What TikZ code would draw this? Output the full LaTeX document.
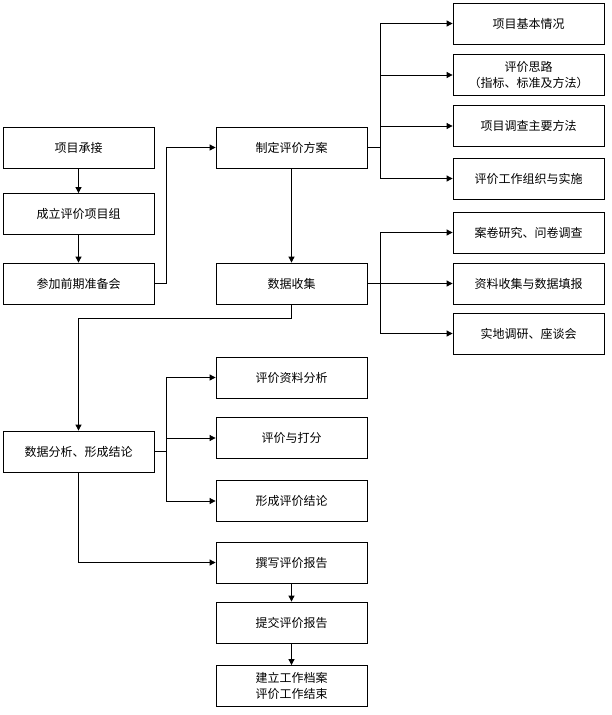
\documentclass[tikz,border=0pt]{standalone}
\usepackage{fontspec}
\setmainfont{Noto Sans CJK SC}
\usetikzlibrary{arrows.meta}

\tikzstyle{stepbox}=[draw, line width=0.8pt, minimum width=151pt, minimum height=41pt, inner sep=1pt, align=center, font=\fontsize{12}{16}\selectfont]
\tikzstyle{link}=[line width=0.8pt, -{Triangle[length=6pt,width=6pt]}]

\begin{document}
\begin{tikzpicture}[x=1pt,y=-1pt]
\useasboundingbox (0,0) rectangle (612,715);

% left column
\node[stepbox] (chengjie) at (78.5,147.5) {项目承接};
\node[stepbox] (zujian) at (78.5,214) {成立评价项目组};
\node[stepbox] (zhunbei) at (78.5,283.5) {参加前期准备会};

% middle column
\node[stepbox] (fangan) at (291.5,147.5) {制定评价方案};
\node[stepbox] (shouji) at (291.5,283.5) {数据收集};

% right column
\node[stepbox] (jiben) at (528.5,23.5) {项目基本情况};
\node[stepbox] (silu) at (528.5,75) {评价思路\\（指标、标准及方法）};
\node[stepbox] (fangfa) at (528.5,126) {项目调查主要方法};
\node[stepbox] (shishi) at (528.5,178.5) {评价工作组织与实施};
\node[stepbox] (anjuan) at (528.5,232.5) {案卷研究、问卷调查};
\node[stepbox] (tianbao) at (528.5,283.5) {资料收集与数据填报};
\node[stepbox] (diaoyan) at (528.5,333.5) {实地调研、座谈会};

% analysis
\node[stepbox] (fenxi) at (78.5,451.5) {数据分析、形成结论};
\node[stepbox] (ziliao) at (291.5,377.5) {评价资料分析};
\node[stepbox] (dafen) at (291.5,438) {评价与打分};
\node[stepbox] (jielun) at (291.5,501) {形成评价结论};

% report
\node[stepbox] (zhuanxie) at (291.5,562.5) {撰写评价报告};
\node[stepbox] (tijiao) at (291.5,622.5) {提交评价报告};
\node[stepbox] (dangan) at (291.5,686) {建立工作档案\\评价工作结束};

\draw[link] (chengjie) -- (zujian);
\draw[link] (zujian) -- (zhunbei);
\draw[link] (zhunbei.east) -- ++(12,0) |- (fangan.west);
\draw[link] (fangan) -- (shouji);

\foreach \n in {jiben,silu,fangfa,shishi}
  \draw[link] (fangan.east) -- ++(13,0) |- (\n.west);
\foreach \n in {anjuan,tianbao,diaoyan}
  \draw[link] (shouji.east) -- ++(13,0) |- (\n.west);

\draw[link] (shouji.south) -- ++(0,14) -| (fenxi.north);
\foreach \n in {ziliao,dafen,jielun}
  \draw[link] (fenxi.east) -- ++(12,0) |- (\n.west);

\draw[link] (fenxi.south) |- (zhuanxie.west);
\draw[link] (zhuanxie) -- (tijiao);
\draw[link] (tijiao) -- (dangan);

\end{tikzpicture}
\end{document}
